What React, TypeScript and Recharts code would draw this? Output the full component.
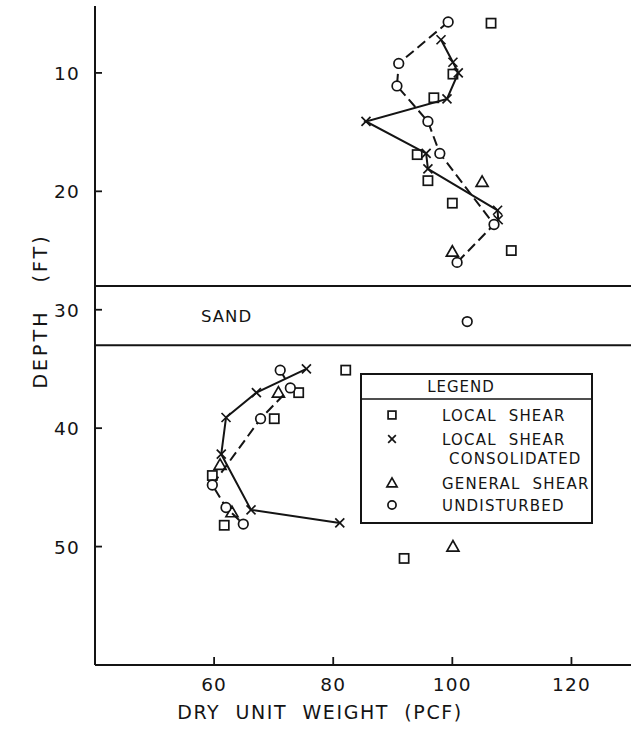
import React from 'react';
import { ScatterChart, Scatter, XAxis, YAxis, ReferenceLine, ReferenceArea, Legend } from 'recharts';

// Axis ticks
const xTicks = [60, 80, 100, 120];
const yTicks = [10, 20, 30, 40, 50];

// Undisturbed samples (dashed profile), clay above and below the sand layer
const undisturbedUpper = [
  { x: 99.3, y: 5.7 },
  { x: 91.0, y: 9.2 },
  { x: 90.7, y: 11.1 },
  { x: 95.9, y: 14.1 },
  { x: 97.9, y: 16.8 },
  { x: 107.0, y: 22.8 },
  { x: 100.8, y: 26.0 },
];
const undisturbedSand = [{ x: 102.5, y: 31.0 }];
const undisturbedLower = [
  { x: 71.1, y: 35.1 },
  { x: 72.8, y: 36.6 },
  { x: 67.8, y: 39.2 },
  { x: 59.7, y: 44.8 },
  { x: 62.0, y: 46.7 },
  { x: 64.9, y: 48.1 },
];

// Local shear, consolidated (solid profile)
const consolidatedUpper = [
  { x: 98.1, y: 7.2 },
  { x: 100.1, y: 9.1 },
  { x: 101.0, y: 10.0 },
  { x: 99.1, y: 12.2 },
  { x: 85.5, y: 14.1 },
  { x: 95.6, y: 16.8 },
  { x: 95.9, y: 18.1 },
  { x: 107.6, y: 21.6 },
  { x: 107.7, y: 22.4 },
];
const consolidatedLower = [
  { x: 75.5, y: 35.0 },
  { x: 67.1, y: 37.0 },
  { x: 62.0, y: 39.1 },
  { x: 61.2, y: 42.2 },
  { x: 66.2, y: 46.9 },
  { x: 81.1, y: 48.0 },
];

// Local shear (squares) and general shear (triangles), unconnected
const localShear = [
  { x: 106.5, y: 5.8 },
  { x: 100.1, y: 10.1 },
  { x: 96.9, y: 12.1 },
  { x: 94.1, y: 16.9 },
  { x: 95.9, y: 19.1 },
  { x: 100.0, y: 21.0 },
  { x: 109.9, y: 25.0 },
  { x: 82.1, y: 35.1 },
  { x: 74.2, y: 37.0 },
  { x: 70.1, y: 39.2 },
  { x: 59.7, y: 44.0 },
  { x: 61.7, y: 48.2 },
  { x: 91.9, y: 51.0 },
];
const generalShear = [
  { x: 105.0, y: 19.2 },
  { x: 100.0, y: 25.1 },
  { x: 70.8, y: 37.0 },
  { x: 61.0, y: 43.1 },
  { x: 63.0, y: 47.1 },
  { x: 100.1, y: 50.0 },
];

// Sand layer limits
const sandTop = 28;
const sandBottom = 33;

const legendRows = [
  { kind: 'square', lines: ['LOCAL  SHEAR'] },
  { kind: 'cross', lines: ['LOCAL  SHEAR', 'CONSOLIDATED'] },
  { kind: 'triangle', lines: ['GENERAL  SHEAR'] },
  { kind: 'circle', lines: ['UNDISTURBED'] },
];

const INK = '#141414';
const FONT = '"DejaVu Sans", sans-serif';

type Kind = 'square' | 'cross' | 'triangle' | 'circle';

function Marker({ kind, cx, cy, s = 1 }: { kind: Kind; cx: number; cy: number; s?: number }) {
  const sw = 1.7;
  if (kind === 'square') {
    const h = 4.6 * s;
    return <rect x={cx - h} y={cy - h} width={2 * h} height={2 * h} fill="none" stroke={INK} strokeWidth={sw} />;
  }
  if (kind === 'cross') {
    const h = 4.5 * s;
    return (
      <g stroke={INK} strokeWidth={sw}>
        <line x1={cx - h} y1={cy - h} x2={cx + h} y2={cy + h} />
        <line x1={cx - h} y1={cy + h} x2={cx + h} y2={cy - h} />
      </g>
    );
  }
  if (kind === 'triangle') {
    const w = 6 * s;
    const pts = `${cx},${cy - 6 * s} ${cx - w},${cy + 4.5 * s} ${cx + w},${cy + 4.5 * s}`;
    return <polygon points={pts} fill="none" stroke={INK} strokeWidth={sw} />;
  }
  return <circle cx={cx} cy={cy} r={4.8 * s} fill="#fff" stroke={INK} strokeWidth={sw} />;
}

const shapeOf = (kind: Kind) => (p: any) => <Marker kind={kind} cx={p.cx} cy={p.cy} />;

function XTick({ x, y, payload }: any) {
  return (
    <g>
      <line x1={x} y1={y} x2={x} y2={y - 8} stroke={INK} strokeWidth={1.8} />
      <text x={x} y={y + 26} textAnchor="middle" fontSize={18.5} fontFamily={FONT} fill={INK} letterSpacing={1.2}>
        {payload.value}
      </text>
    </g>
  );
}

function YTick({ x, y, payload }: any) {
  return (
    <g>
      <line x1={x} y1={y} x2={x + 7} y2={y} stroke={INK} strokeWidth={1.8} />
      <text x={x - 15} y={y + 7} textAnchor="end" fontSize={18.5} fontFamily={FONT} fill={INK} letterSpacing={1.2}>
        {payload.value}
      </text>
    </g>
  );
}

function LegendBox() {
  const centers = [42, 66, 110, 132];
  return (
    <svg width={233} height={151} style={{ display: 'block' }}>
      <rect x={1} y={1} width={231} height={149} fill="#fff" stroke={INK} strokeWidth={2} />
      <line x1={1} y1={26} x2={232} y2={26} stroke={INK} strokeWidth={1.6} />
      <text x={101} y={19} textAnchor="middle" fontSize={15} fontFamily={FONT} fill={INK} letterSpacing={1}>
        LEGEND
      </text>
      {legendRows.map((row, i) => (
        <g key={row.kind}>
          <Marker kind={row.kind as Kind} cx={32} cy={centers[i]} s={0.85} />
          {row.lines.map((ln, j) => (
            <text
              key={ln}
              x={j === 0 ? 82 : 89}
              y={centers[i] + 5.5 + j * 19}
              fontSize={15}
              fontFamily={FONT}
              fill={INK}
              letterSpacing={1.2}
              style={{ whiteSpace: 'pre' }}
            >
              {ln}
            </text>
          ))}
        </g>
      ))}
    </svg>
  );
}

const dashed = { stroke: INK, strokeWidth: 2, strokeDasharray: '10 5' };
const solid = { stroke: INK, strokeWidth: 2 };

export default function App() {
  return (
    <div style={{ position: 'absolute', left: 0, top: 0, width: 634, height: 735, background: '#fff' }}>
      <ScatterChart width={634} height={735} margin={{ top: 6, right: 3, bottom: 69, left: 94 }}>
        <XAxis
          type="number"
          dataKey="x"
          domain={[40, 130]}
          ticks={xTicks}
          allowDataOverflow
          height={1}
          tickSize={0}
          tickMargin={0}
          tick={<XTick />}
          axisLine={{ stroke: INK, strokeWidth: 2 }}
        />
        <YAxis
          type="number"
          dataKey="y"
          domain={[4.35, 60]}
          reversed
          ticks={yTicks}
          allowDataOverflow
          width={1}
          tickSize={0}
          tickMargin={0}
          tick={<YTick />}
          axisLine={{ stroke: INK, strokeWidth: 2 }}
        />
        <ReferenceArea
          y1={sandTop}
          y2={sandBottom}
          x1={40}
          x2={130}
          fill="none"
          stroke="none"
          label={{ value: 'SAND', position: 'insideLeft', offset: 106, fontSize: 16.5, fill: INK, fontFamily: FONT, letterSpacing: 1 }}
        />
        <ReferenceLine y={sandTop} stroke={INK} strokeWidth={2} />
        <ReferenceLine y={sandBottom} stroke={INK} strokeWidth={2} />

        <Scatter data={localShear} shape={shapeOf('square')} isAnimationActive={false} legendType="none" />
        <Scatter data={generalShear} shape={shapeOf('triangle')} isAnimationActive={false} legendType="none" />
        <Scatter data={consolidatedUpper} line={solid} lineType="joint" shape={shapeOf('cross')} isAnimationActive={false} legendType="none" />
        <Scatter data={consolidatedLower} line={solid} lineType="joint" shape={shapeOf('cross')} isAnimationActive={false} legendType="none" />
        <Scatter data={undisturbedUpper} line={dashed} lineType="joint" shape={shapeOf('circle')} isAnimationActive={false} legendType="none" />
        <Scatter data={undisturbedSand} shape={shapeOf('circle')} isAnimationActive={false} legendType="none" />
        <Scatter data={undisturbedLower} line={dashed} lineType="joint" shape={shapeOf('circle')} isAnimationActive={false} legendType="none" />

        <Legend
          layout="horizontal"
          verticalAlign="middle"
          align="center"
          content={() => <LegendBox />}
          wrapperStyle={{ left: 360, top: 373, width: 233, height: 151 }}
        />

        <text x={320} y=  {719} textAnchor="middle" fontSize={19} fontFamily={FONT} fill={INK} letterSpacing={1.6} style={{ whiteSpace: 'pre' }}>
          {'DRY  UNIT  WEIGHT  (PCF)'}
        </text>
        <text
          x={0}
          y={0}
          transform="translate(47,311) rotate(-90)"
          textAnchor="middle"
          fontSize={19}
          fontFamily={FONT}
          fill={INK}
          letterSpacing={3}
          style={{ whiteSpace: 'pre' }}
        >
          {'DEPTH   (FT)'}
        </text>
      </ScatterChart>
    </div>
  );
}
